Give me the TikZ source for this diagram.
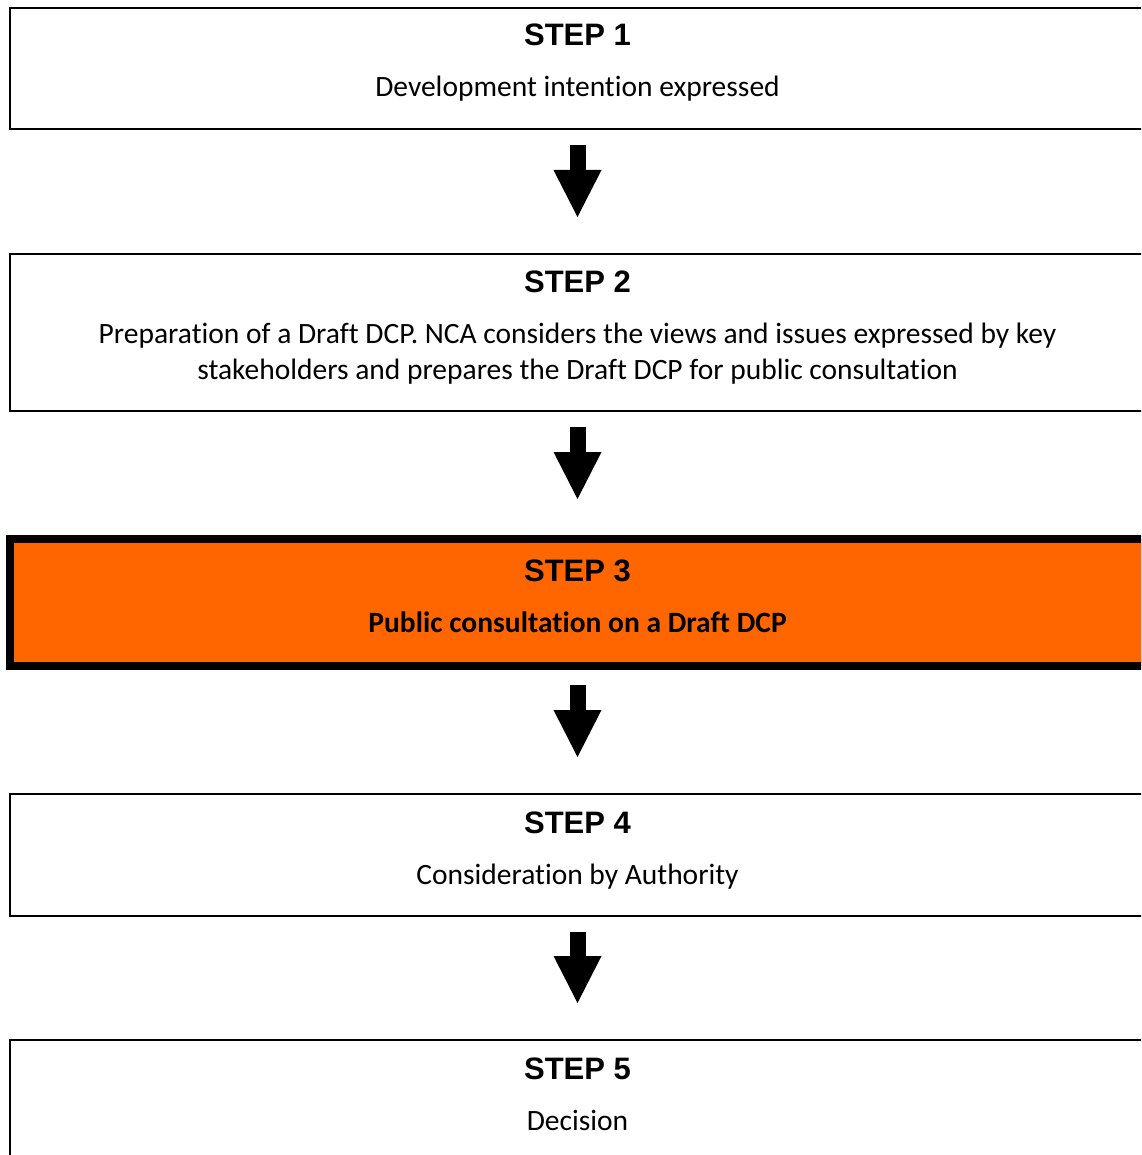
\documentclass[tikz,border=0pt]{standalone}
\usepackage{fontspec}
\setmainfont{Carlito}[Ligatures=NoCommon]
\newfontfamily\headfont{Liberation Sans}
\usepackage{tikz}
\usetikzlibrary{
    arrows.meta,
    positioning
}
\definecolor{stepfill}{HTML}{FF6600}
\newcommand{\stephead}[1]{{\headfont\bfseries\fontsize{31}{36}\selectfont #1}\\[15pt]}
\tikzset{
    stepbox/.style={
        shape=rectangle, draw, line width=2pt, align=center, inner sep=0pt,
        minimum width=1135pt, minimum height=#1,
        font=\fontsize{29.5}{36}\selectfont,
        text height=66pt, text depth=8pt
    },
    stepbox/.default=121pt,
    current step/.style={
        fill=stepfill, line width=8pt, font=\fontsize{29.5}{36}\selectfont\bfseries
    },
    flow/.style={
        line width=16pt,
        -{Triangle[width=48pt,length=47pt,line width=0pt]},
        shorten <=15pt, shorten >=36pt
    },
}

\begin{document}
\begin{tikzpicture}[x=1pt,y=-1pt]
    \path[use as bounding box, clip] (0,0) rectangle (1141,1155);
    \node[stepbox, text height=65pt] (s1) at (577.5,68.5)
        {\stephead{STEP 1}Development intention expressed};
    \node[stepbox=157pt, text height=101pt] (s2) at (577.5,332.5)
        {\stephead{STEP 2}Preparation of a Draft DCP. NCA considers the views and issues expressed by key\\
         stakeholders and prepares the Draft DCP for public consultation};
    \node[stepbox=127pt, current step, text height=67pt] (s3) at (577.5,602.5)
        {\stephead{STEP 3}Public consultation on a Draft DCP};
    \node[stepbox=122pt] (s4) at (577.5,855)
        {\stephead{STEP 4}Consideration by Authority};
    \node[stepbox, text height=67pt] (s5) at (577.5,1100.5)
        {\stephead{STEP 5}Decision};
    % block arrows between the steps
    \foreach \a/\b in {s1/s2, s2/s3, s3/s4, s4/s5}
        \draw[flow] (\a) -- (\b);
\end{tikzpicture}
\end{document}
